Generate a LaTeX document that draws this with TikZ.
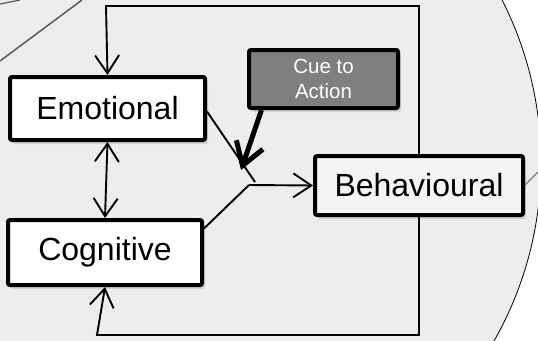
\documentclass[tikz,border=0pt]{standalone}
\usepackage{fontspec}
\setmainfont{Liberation Sans}
\usetikzlibrary{arrows.meta, shadows, calc}
\definecolor{BGGrey}{HTML}{EDEDED}
\definecolor{BoxGrey}{HTML}{F4F4F4}
\definecolor{CueGrey}{HTML}{7F7F7F}
\definecolor{EdgeGrey}{HTML}{5A5A5A}

\begin{document}
\begin{tikzpicture}[
        x=1pt, y=-1pt,
        every node/.style={font=\fontsize{32}{38}\selectfont},
        state/.style={rectangle, rounded corners=2pt, draw=black, fill=white, line width=4pt, inner sep=0pt, drop shadow={shadow xshift=3pt, shadow yshift=-4pt, opacity=0.25}},
        cue/.style={state, fill=CueGrey, text=white, align=center, font=\fontsize{20.5}{25.7}\selectfont},
        link/.style={line width=1.9pt, black},
        arr/.style={link, -{Straight Barb[length=18pt, width=24pt]}},
        dblarr/.style={link, {Straight Barb[length=18pt, width=24pt]}-{Straight Barb[length=18pt, width=24pt]}},
        cuearr/.style={line width=5pt, -{Straight Barb[length=22pt, width=28pt]}}
    ]
        % background
        \useasboundingbox (0,0) rectangle (538,340);
        \clip (0,0) rectangle (538,340);
        \draw[fill=BGGrey, line width=0.8pt] (181,163) circle[radius=360];
        \draw[EdgeGrey, line width=1.5pt] (0,61) -- (82,0);
        \draw[EdgeGrey, line width=1.2pt] (0,4) -- (20,0);
        \draw[EdgeGrey, line width=1pt] (505,205) -- (548,162);

        % boxes
        \node[state, minimum width=195pt, minimum height=63pt] (emo) at (107.5,108.5) {Emotional};
        \node[state, minimum width=194pt, minimum height=65pt] (cog) at (105,252.5) {Cognitive};
        \node[state, fill=BoxGrey, minimum width=208pt, minimum height=59pt] (beh) at (419,185.5) {Behavioural};
        \node[cue, minimum width=149pt, minimum height=58pt] (cue) at (323.5,79) {Cue to\\Action};

        \coordinate (loopTop) at (106,6);
        \coordinate (loopBot) at (97,335);
        \coordinate (gateE) at (255,182);
        \coordinate (gateC) at (249,185);
        \coordinate (cueTip) at (241,170);

        % feedback loops
        \draw[arr] (beh.north) |- (loopTop) -- (emo.north);
        \draw[arr] (beh.south) |- (loopBot) -- (cog.south);
        \draw[dblarr] (emo.south) -- (cog.north);

        % gate
        \draw[link] ([yshift=-3pt]emo.east) -- (gateE);
        \draw[link] ([yshift=24pt]cog.east) -- (gateC);
        \draw[arr] (gateC) -- (beh.west);
        \draw[cuearr] ([xshift=-62pt]cue.south) -- (cueTip);
    \end{tikzpicture}
\end{document}
